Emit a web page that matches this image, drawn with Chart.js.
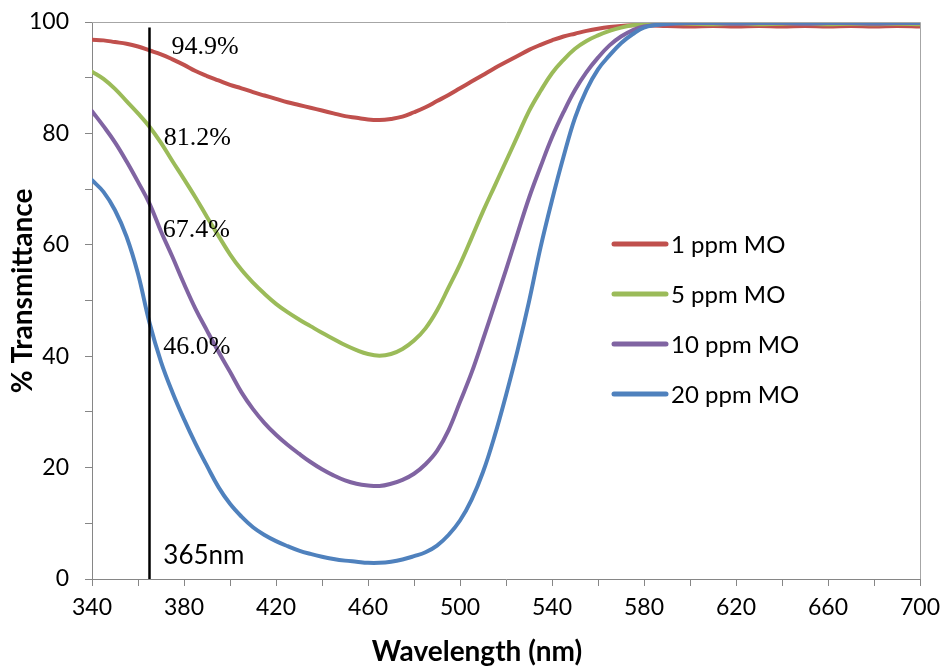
<!DOCTYPE html>
<html>
<head>
<meta charset="utf-8">
<script src="https://cdn.jsdelivr.net/npm/chart.js@4/dist/chart.umd.min.js"></script>
<style>
  html, body { margin: 0; padding: 0; background: #fff; }
  #wrap { width: 943px; height: 668px; }
</style>
</head>
<body>
<div id="wrap"><canvas id="c" width="943" height="668"></canvas></div>
<script>
// Wavelength grid (nm)
const wavelengths = [
  340,345,350,355,360,365,370,375,380,385,390,395,400,405,410,415,420,425,430,435,
  440,445,450,455,460,465,470,475,480,485,490,495,500,505,510,515,520,525,530,535,
  540,545,550,555,560,565,570,575,580,
  590,600,610,620,630,640,650,660,670,680,690,700
];

// % transmittance for each methyl orange concentration
const mo1ppm = [
  96.8,96.7,96.4,96.1,95.6,94.9,94.2,93.3,92.3,91.2,90.3,89.5,88.7,88.1,87.4,86.8,86.2,85.6,85.1,84.6,
  84.1,83.6,83.1,82.8,82.5,82.4,82.6,83.0,83.8,84.7,85.8,86.9,88.1,89.3,90.5,91.7,92.8,93.9,95.0,95.9,
  96.7,97.4,97.9,98.4,98.8,99.1,99.3,99.4,99.4,
  99.3,99.2,99.3,99.2,99.3,99.2,99.3,99.2,99.3,99.2,99.3,99.2
];
const mo5ppm = [
  91.1,89.8,88.0,85.8,83.6,81.2,78.3,75.0,71.8,68.5,65.0,61.6,58.3,55.5,53.2,51.2,49.4,47.9,46.6,45.4,
  44.2,43.1,42.0,41.1,40.4,40.1,40.4,41.3,42.8,45.0,48.2,52.3,56.5,61.2,66.0,70.5,75.0,79.5,84.0,87.6,
  90.8,93.2,95.2,96.6,97.6,98.4,99.0,99.4,99.6,
  99.7,99.7,99.6,99.7,99.6,99.7,99.7,99.6,99.7,99.6,99.7,99.6
];
const mo10ppm = [
  84.0,81.3,78.4,75.0,71.3,67.4,62.4,57.8,53.0,48.5,44.6,40.8,37.2,33.5,30.5,28.0,25.9,24.1,22.5,21.0,
  19.7,18.6,17.7,17.1,16.8,16.7,17.1,17.8,18.9,20.6,23.0,26.7,31.8,37.0,43.0,49.2,55.5,62.0,68.4,74.0,
  79.3,83.8,87.8,91.0,93.6,95.8,97.4,98.5,99.2,
  99.6,99.8,99.8,99.7,99.8,99.8,99.7,99.8,99.8,99.7,99.8,99.8
];
const mo20ppm = [
  71.6,69.5,66.2,61.5,54.8,46.0,39.0,33.5,28.7,24.3,20.3,16.5,13.5,11.2,9.3,7.9,6.8,5.9,5.1,4.5,
  4.0,3.6,3.3,3.1,2.9,2.9,3.1,3.5,4.1,4.8,6.0,7.9,10.5,14.2,19.2,25.6,33.0,41.0,49.8,59.5,
  68.0,75.8,82.8,87.8,91.5,94.0,96.2,97.8,99.0,
  99.7,99.9,99.9,99.9,99.9,99.9,99.9,99.9,99.9,99.9,99.9,99.9
];

const seriesNames = ['1 ppm MO', '5 ppm MO', '10 ppm MO', '20 ppm MO'];
const seriesColors = ['#C0504D', '#9BBB59', '#8064A2', '#4F81BD'];
const seriesValues = [mo1ppm, mo5ppm, mo10ppm, mo20ppm];

// UV lamp wavelength marker
const markerNm = 365;
const markerTop = 99;

const xTitle = 'Wavelength (nm)';
const yTitle = '% Transmittance';

const valueAtMarker = arr => arr[wavelengths.indexOf(markerNm)];

const toPoints = arr => wavelengths.map((w, i) => ({ x: w, y: arr[i] }));

const datasets = seriesValues.map((vals, i) => ({
  label: seriesNames[i],
  data: toPoints(vals),
  borderColor: seriesColors[i],
  backgroundColor: seriesColors[i],
  borderWidth: 4,
  pointRadius: 0,
  tension: 0.4,
  borderCapStyle: 'round',
  order: seriesValues.length - i
}));

datasets.push({
  label: '',
  data: [{ x: markerNm, y: 0 }, { x: markerNm, y: markerTop }],
  borderColor: '#000',
  borderWidth: 2.5,
  pointRadius: 0,
  order: 0
});

// Plot frame, axis titles, value call-outs and the legend
const decorations = {
  id: 'decorations',
  afterDatasetsDraw(chart) {
    const { ctx, chartArea: a, scales: { x, y } } = chart;
    ctx.save();

    // top and right edges of the plot frame
    ctx.strokeStyle = '#A6A6A6';
    ctx.lineWidth = 1;
    ctx.beginPath();
    ctx.moveTo(a.left, a.top + 0.5);
    ctx.lineTo(a.right + 0.5, a.top + 0.5);
    ctx.lineTo(a.right + 0.5, a.bottom);
    ctx.stroke();

    // axis titles
    ctx.fillStyle = '#000';
    ctx.textAlign = 'center';
    ctx.textBaseline = 'middle';
    ctx.font = 'bold 28px Lato, sans-serif';
    ctx.fillText(xTitle, 477, 652);
    ctx.save();
    ctx.translate(23, 291);
    ctx.rotate(-Math.PI / 2);
    ctx.fillText(yTitle, 0, 0);
    ctx.restore();

    // transmittance at the marker wavelength
    const callouts = [
      { s: 0, x: 374.6, y: 95.4 },
      { s: 1, x: 371.2, y: 79.2 },
      { s: 2, x: 370.8, y: 62.7 },
      { s: 3, x: 371.0, y: 41.7 }
    ];
    ctx.textAlign = 'left';
    ctx.font = '26px "Liberation Serif", "Times New Roman", serif';
    callouts.forEach(c => {
      const txt = valueAtMarker(seriesValues[c.s]).toFixed(1) + '%';
      ctx.fillText(txt, x.getPixelForValue(c.x), y.getPixelForValue(c.y));
    });
    ctx.font = '26px Lato, sans-serif';
    ctx.fillText(markerNm + 'nm', x.getPixelForValue(371.0), y.getPixelForValue(4.2));

    // legend
    const lx0 = 614, lx1 = 666, ly0 = 244, step = 50;
    ctx.font = '24px Lato, sans-serif';
    seriesNames.forEach((name, i) => {
      const yy = ly0 + i * step;
      ctx.strokeStyle = seriesColors[i];
      ctx.lineWidth = 5;
      ctx.lineCap = 'round';
      ctx.beginPath();
      ctx.moveTo(lx0, yy);
      ctx.lineTo(lx1, yy);
      ctx.stroke();
      ctx.fillStyle = '#000';
      ctx.fillText(name, lx1 + 5, yy + 1);
    });
    ctx.restore();
  }
};

const tickFont = { family: 'Lato', size: 23 };

// fixed axis box sizes so the plot area sits at a set place
const fixBox = (s, prop, size) => {
  s[prop] = size;
  s.paddingTop = 0;
  s.paddingBottom = 0;
  s.paddingLeft = 0;
  s.paddingRight = 0;
};

new Chart(document.getElementById('c'), {
  type: 'line',
  data: { datasets },
  options: {
    responsive: false,
    animation: false,
    layout: { padding: { top: 22, right: 23, left: 0, bottom: 0 } },
    plugins: { legend: { display: false }, tooltip: { enabled: false } },
    scales: {
      x: {
        type: 'linear',
        min: 340,
        max: 700,
        afterFit(s) { fixBox(s, 'height', 89); },
        ticks: {
          stepSize: 20,
          autoSkip: false,
          maxRotation: 0,
          padding: 8,
          color: '#000',
          font: tickFont,
          callback: v => ((v - 340) % 40 === 0 ? String(v) : '')
        },
        grid: { drawOnChartArea: false, drawTicks: true, tickLength: 7, color: '#868686', lineWidth: 1 },
        border: { display: true, color: '#868686', width: 1 }
      },
      y: {
        min: 0,
        max: 100,
        afterFit(s) { fixBox(s, 'width', 92); },
        ticks: {
          stepSize: 10,
          autoSkip: false,
          padding: 16,
          color: '#000',
          font: tickFont,
          callback: v => (v % 20 === 0 ? String(v) : '')
        },
        grid: { drawOnChartArea: false, drawTicks: true, tickLength: 7, color: '#868686', lineWidth: 1 },
        border: { display: true, color: '#868686', width: 1 }
      }
    }
  },
  plugins: [decorations]
});
</script>
</body>
</html>
